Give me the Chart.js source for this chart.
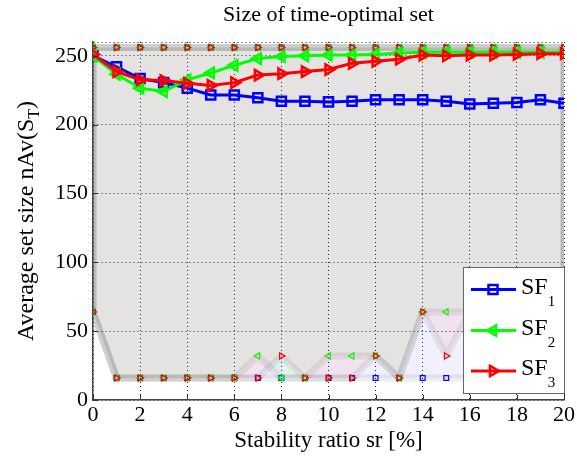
<!DOCTYPE html>
<html>
<head>
<meta charset="utf-8">
<script src="https://cdn.jsdelivr.net/npm/chart.js@4/dist/chart.umd.min.js"></script>
<style>
  html, body { margin: 0; padding: 0; background: #fff; }
  #wrap { width: 577px; height: 461px; position: relative; }
</style>
</head>
<body>
<div id="wrap"><canvas id="chart" width="577" height="461"></canvas></div>
<script>
// Stability ratio sr [%] at which each set size was measured
const stabilityRatio = [0, 1, 2, 3, 4, 5, 6, 7, 8, 9, 10, 11, 12, 13, 14, 15, 16, 17, 18, 19, 20];

// Average set size per solver
const sf1Mean = [250, 242, 233.5, 230.5, 226.5, 221.5, 221.5, 219.5, 217, 217, 216.5, 217, 218, 218, 218, 217, 215, 215.5, 216, 218, 215.5];
const sf2Mean = [250, 236.5, 226.5, 224, 232.5, 237.5, 243, 248, 249.5, 250, 250.5, 250.5, 251, 252, 252.5, 252.5, 252.5, 252.5, 252.5, 252.5, 252.5];
const sf3Mean = [251, 238.5, 232.5, 232, 230, 228.5, 230.5, 236, 237, 238.5, 240, 244.5, 246, 247.5, 250.5, 250, 250.5, 250.5, 251, 251.5, 251.5];

// Smallest observed set size per solver
const sf1Min = [64, 16, 16, 16, 16, 16, 16, 16, 16, 16, 16, 16, 16, 16, 16, 16, 16, 16, 16, 16, 16];
const sf2Min = [64, 16, 16, 16, 16, 16, 16, 32, 16, 16, 32, 32, 32, 16, 64, 64, 64, 64, 64, 64, 64];
const sf3Min = [64, 16, 16, 16, 16, 16, 16, 16, 32, 16, 16, 16, 32, 16, 64, 32, 64, 64, 64, 64, 64];

// Largest observed set size per solver
const sf1Max = [256, 256, 256, 256, 256, 256, 256, 256, 256, 256, 256, 256, 256, 256, 256, 256, 256, 256, 256, 256, 256];
const sf2Max = [256, 256, 256, 256, 256, 256, 256, 256, 256, 256, 256, 256, 256, 256, 256, 256, 256, 256, 256, 256, 256];
const sf3Max = [256, 256, 256, 256, 256, 256, 256, 256, 256, 256, 256, 256, 256, 256, 256, 256, 256, 256, 256, 256, 256];

// Axis ticks
const xTickValues = [0, 2, 4, 6, 8, 10, 12, 14, 16, 18, 20];
const yTickValues = [0, 50, 100, 150, 200, 250];
const yAxisTop = 260;

const seriesLabels = ['SF', 'SF', 'SF'];
const seriesSubscripts = ['1', '2', '3'];

const SERIF = '"Liberation Serif", "Times New Roman", serif';

const series = [
  { color: '#0000ff', fill: 'rgba(0,0,255,0.06)', style: 'rect',     rot: 0,   mean: sf1Mean, lo: sf1Min, hi: sf1Max, r: 6.4, rs: 3.4 },
  { color: '#00ff00', fill: 'rgba(0,255,0,0.06)', style: 'triangle', rot: -90, mean: sf2Mean, lo: sf2Min, hi: sf2Max, r: 6,   rs: 3.6 },
  { color: '#ff0000', fill: 'rgba(255,0,0,0.06)', style: 'triangle', rot: 90,  mean: sf3Mean, lo: sf3Min, hi: sf3Max, r: 6,   rs: 3.6 }
];

// Closed min/max band: along the maxima, back along the minima, then closed
function band(xs, lo, hi) {
  const pts = xs.map((x, i) => ({ x, y: hi[i] }));
  for (let i = xs.length - 1; i >= 0; i--) pts.push({ x: xs[i], y: lo[i] });
  pts.push({ x: xs[0], y: hi[0] });
  return pts;
}

const datasets = [];
series.forEach((s, i) => {
  datasets.push({
    label: 'band' + i,
    data: band(stabilityRatio, s.lo, s.hi),
    fill: 'shape',
    backgroundColor: s.fill,
    borderColor: 'rgba(60,60,60,0.09)',
    borderWidth: 7,
    borderJoinStyle: 'round',
    borderCapStyle: 'round',
    tension: 0,
    pointStyle: s.style,
    pointRotation: s.rot,
    pointRadius: s.rs,
    pointBorderWidth: 1.2,
    pointBorderColor: s.color,
    pointBackgroundColor: 'rgba(0,0,0,0)',
    order: 6 - i
  });
});
series.forEach((s, i) => {
  datasets.push({
    label: seriesLabels[i] + seriesSubscripts[i],
    data: stabilityRatio.map((x, k) => ({ x, y: s.mean[k] })),
    fill: false,
    borderColor: s.color,
    borderWidth: 3,
    tension: 0,
    pointStyle: s.style,
    pointRotation: s.rot,
    pointRadius: s.r,
    pointBorderWidth: 2.5,
    pointBorderColor: s.color,
    pointBackgroundColor: 'rgba(0,0,0,0)',
    order: 3 - i
  });
});

function drawMarker(ctx, style, rot, x, y, r) {
  ctx.beginPath();
  if (style === 'rect') {
    const h = Math.SQRT1_2 * r;
    ctx.rect(x - h, y - h, 2 * h, 2 * h);
  } else {
    let a = rot * Math.PI / 180;
    ctx.moveTo(x + Math.sin(a) * r, y - Math.cos(a) * r);
    a += 2 * Math.PI / 3;
    ctx.lineTo(x + Math.sin(a) * r, y - Math.cos(a) * r);
    a += 2 * Math.PI / 3;
    ctx.lineTo(x + Math.sin(a) * r, y - Math.cos(a) * r);
    ctx.closePath();
  }
  ctx.stroke();
}

const decorations = {
  id: 'decorations',
  afterDraw(chart) {
    const { ctx, chartArea: a, scales } = chart;
    const xs = scales.x, ys = scales.y;
    ctx.save();

    // inward tick marks
    ctx.strokeStyle = '#333';
    ctx.lineWidth = 1;
    ctx.beginPath();
    xTickValues.forEach(v => {
      const px = Math.round(xs.getPixelForValue(v)) + 0.5;
      ctx.moveTo(px, a.bottom); ctx.lineTo(px, a.bottom - 5);
    });
    yTickValues.forEach(v => {
      const py = Math.round(ys.getPixelForValue(v)) + 0.5;
      ctx.moveTo(a.left, py); ctx.lineTo(a.left + 5, py);
    });
    ctx.stroke();

    ctx.fillStyle = '#000';
    ctx.textBaseline = 'alphabetic';

    // title
    ctx.font = '22px ' + SERIF;
    ctx.textAlign = 'center';
    ctx.fillText('Size of time-optimal set', (a.left + a.right) / 2, 21);

    // x axis title
    ctx.font = '23px ' + SERIF;
    ctx.fillText('Stability ratio sr [%]', (a.left + a.right) / 2, 447);

    // y axis title with subscript
    const mainFont = '24px ' + SERIF, subFont = '16px ' + SERIF;
    const p1 = 'Average set size nAv(S', p2 = 'T', p3 = ')';
    ctx.font = mainFont; const w1 = ctx.measureText(p1).width, w3 = ctx.measureText(p3).width;
    ctx.font = subFont; const w2 = ctx.measureText(p2).width;
    const total = w1 + w2 + w3;
    ctx.save();
    ctx.translate(33, (a.top + a.bottom) / 2);
    ctx.rotate(-Math.PI / 2);
    ctx.textAlign = 'left';
    let cx = -total / 2;
    ctx.font = mainFont; ctx.fillText(p1, cx, 0); cx += w1;
    ctx.font = subFont; ctx.fillText(p2, cx, 6); cx += w2;
    ctx.font = mainFont; ctx.fillText(p3, cx, 0);
    ctx.restore();

    // legend
    const lx = 463, ly = 267, lw = 101, lh = 126;
    ctx.fillStyle = '#fff';
    ctx.fillRect(lx, ly, lw, lh);
    ctx.strokeStyle = '#666';
    ctx.lineWidth = 1;
    ctx.strokeRect(lx + 0.5, ly + 0.5, lw, lh);
    const rows = [289.5, 330.5, 371];
    series.forEach((s, i) => {
      const yy = rows[i];
      ctx.strokeStyle = s.color;
      ctx.lineWidth = 3;
      ctx.beginPath(); ctx.moveTo(471, yy); ctx.lineTo(516, yy); ctx.stroke();
      ctx.lineWidth = 2.5;
      drawMarker(ctx, s.style, s.rot, 493, yy, s.r);
      ctx.fillStyle = '#000';
      ctx.textAlign = 'left';
      ctx.font = '24px ' + SERIF;
      ctx.fillText(seriesLabels[i], 521, yy + 4);
      const ws = ctx.measureText(seriesLabels[i]).width;
      ctx.font = '15px ' + SERIF;
      ctx.fillText(seriesSubscripts[i], 521 + ws, yy + 16);
    });

    ctx.restore();
  }
};

new Chart(document.getElementById('chart'), {
  type: 'line',
  data: { datasets },
  options: {
    responsive: false,
    animation: false,
    devicePixelRatio: 1,
    layout: { padding: { top: 42, right: 7, left: 0, bottom: 0 } },
    plugins: {
      legend: { display: false },
      title: { display: false },
      tooltip: { enabled: false }
    },
    scales: {
      x: {
        type: 'linear',
        min: 0,
        max: 20,
        afterBuildTicks: s => { s.ticks = xTickValues.map(v => ({ value: v })); },
        afterFit: s => { s.height = 61; },
        ticks: { font: { family: SERIF, size: 22 }, color: '#000', padding: 2, maxRotation: 0, autoSkip: false },
        grid: { color: '#222', lineWidth: 1, drawTicks: false },
        border: { display: true, color: '#444', width: 1.5, dash: [1, 3] }
      },
      y: {
        type: 'linear',
        min: 0,
        max: yAxisTop,
        afterBuildTicks: s => { s.ticks = yTickValues.concat([yAxisTop]).map(v => ({ value: v })); },
        afterFit: s => { s.width = 93; },
        ticks: {
          font: { family: SERIF, size: 22 }, color: '#000', padding: 5, autoSkip: false,
          callback: v => (yTickValues.includes(v) ? String(v) : '')
        },
        grid: { color: '#222', lineWidth: 1, drawTicks: false },
        border: { display: true, color: '#444', width: 1.5, dash: [1, 3] }
      }
    }
  },
  plugins: [decorations]
});
</script>
</body>
</html>
